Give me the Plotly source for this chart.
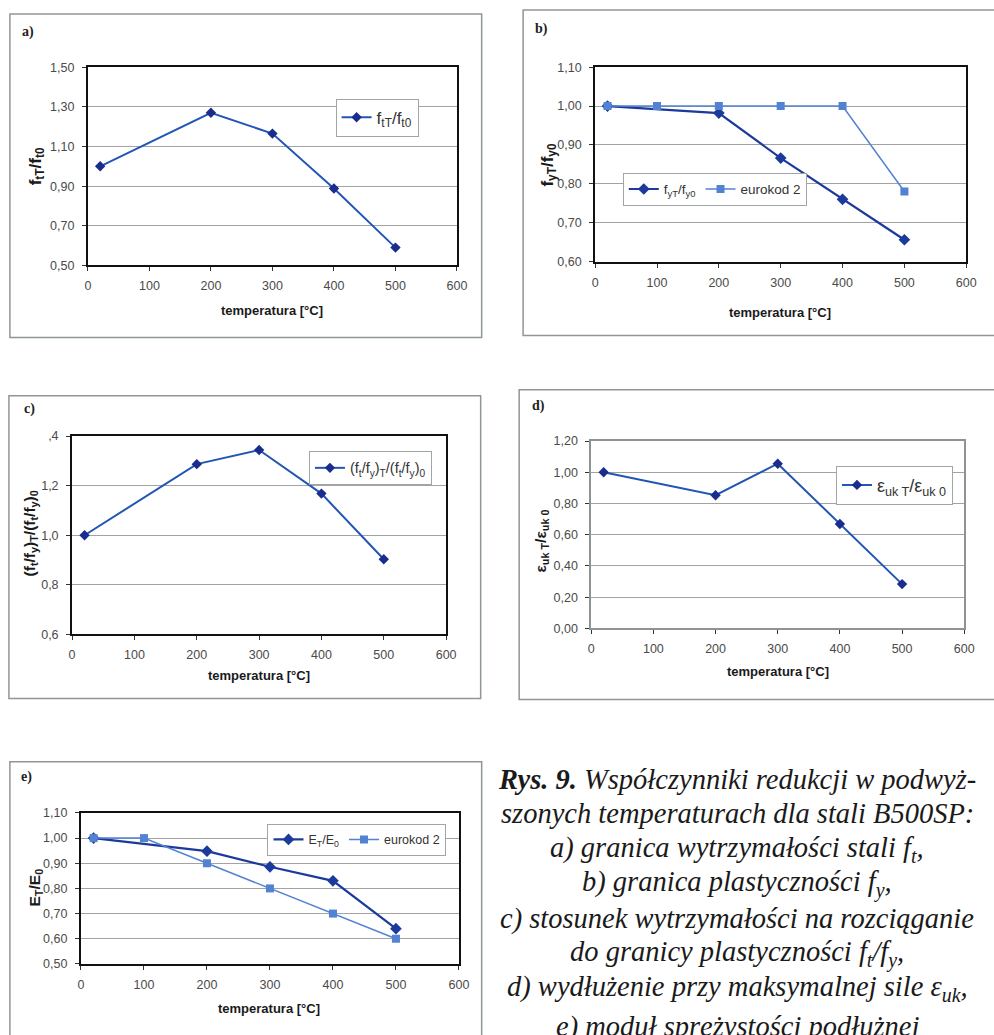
import plotly.graph_objects as go

W, H = 994, 1035


def px(x):
    return x / W


def py(y):
    return 1 - y / H


# ---------------- data ----------------
x_ticks = [0, 100, 200, 300, 400, 500, 600]
x_ticklabels = ["0", "100", "200", "300", "400", "500", "600"]

temps_a = [20, 200, 300, 400, 500]
ratio_a = [1.00, 1.27, 1.165, 0.888, 0.59]
ytick_a = [0.5, 0.7, 0.9, 1.1, 1.3, 1.5]
ylab_a = ["0,50", "0,70", "0,90", "1,10", "1,30", "1,50"]

temps_b = [20, 200, 300, 400, 500]
ratio_b = [1.00, 0.982, 0.866, 0.76, 0.656]
temps_ec_b = [20, 100, 200, 300, 400, 500]
ec_b = [1.0, 1.0, 1.0, 1.0, 1.0, 0.78]
ytick_b = [0.6, 0.7, 0.8, 0.9, 1.0, 1.1]
ylab_b = ["0,60", "0,70", "0,80", "0,90", "1,00", "1,10"]

temps_c = [20, 200, 300, 400, 500]
ratio_c = [1.00, 1.287, 1.344, 1.168, 0.903]
ytick_c = [0.6, 0.8, 1.0, 1.2, 1.4]
ylab_c = ["0,6", "0,8", "1,0", "1,2", ",4"]

temps_d = [20, 200, 300, 400, 500]
ratio_d = [1.00, 0.853, 1.055, 0.669, 0.284]
ytick_d = [0.0, 0.2, 0.4, 0.6, 0.8, 1.0, 1.2]
ylab_d = ["0,00", "0,20", "0,40", "0,60", "0,80", "1,00", "1,20"]

temps_e = [20, 200, 300, 400, 500]
ratio_e = [1.00, 0.948, 0.886, 0.83, 0.64]
temps_ec_e = [20, 100, 200, 300, 400, 500]
ec_e = [1.0, 1.0, 0.9, 0.8, 0.7, 0.6]
ytick_e = [0.5, 0.6, 0.7, 0.8, 0.9, 1.0, 1.1]
ylab_e = ["0,50", "0,60", "0,70", "0,80", "0,90", "1,00", "1,10"]

caption_lines = [
    "<b>Rys. 9.</b> Współczynniki redukcji w podwyż-",
    "szonych temperaturach dla stali B500SP:",
    "a) granica wytrzymałości stali f<sub>t</sub>,",
    "b) granica plastyczności f<sub>y</sub>,",
    "c) stosunek wytrzymałości na rozciąganie",
    "do granicy plastyczności f<sub>t</sub>/f<sub>y</sub>,",
    "d) wydłużenie przy maksymalnej sile ε<sub>uk</sub>,",
    "e) moduł sprężystości podłużnej",
]

# ---------------- styles ----------------
DARK = "#1b3a9c"
MID = "#2356b4"
LIGHT = "#5282d2"
GRID = "#a3a3a3"
BOX = "#8f9696"
SANS = "Liberation Sans, Arial, sans-serif"
SERIF = "Liberation Serif, Times New Roman, serif"

panels = [
    dict(key="a", plot=(86, 61, 460, 262), box=(7, 7, 485, 335),
         yt=ytick_a, yl=ylab_a, yr=[0.5, 1.5], border="#111111",
         label=(17, 25), ytitle="f<sub>tT</sub>/f<sub>t0</sub>", yt_pos=(34, 162), yt_size=17,
         xt_pos=(273, 308),
         legend=dict(x=337, y=93, orientation="v", size=17)),
    dict(key="b", plot=(600, 61, 976, 258), box=(527, 3, 1010, 333),
         yt=ytick_b, yl=ylab_b, yr=[0.6, 1.1], border="#111111",
         label=(537, 22), ytitle="f<sub>yT</sub>/f<sub>y0</sub>", yt_pos=(553, 160), yt_size=17,
         xt_pos=(787, 310),
         legend=dict(x=628, y=168, orientation="h", size=13.5)),
    dict(key="c", plot=(70, 435, 449, 636), box=(6, 394, 484, 701),
         yt=ytick_c, yl=ylab_c, yr=[0.6, 1.4], border="#111111",
         label=(19, 408),
         ytitle="(f<sub>t</sub>/f<sub>y</sub>)<sub>T</sub>/(f<sub>t</sub>/f<sub>y</sub>)<sub>0</sub>",
         yt_pos=(28, 534), yt_size=15.5, xt_pos=(259, 678),
         legend=dict(x=310, y=450, orientation="v", size=14.5)),
    dict(key="d", plot=(596, 440, 974, 630), box=(523, 388, 1010, 702),
         yt=ytick_d, yl=ylab_d, yr=[0.0, 1.2], border="#8e9494",
         label=(534, 404), ytitle="ε<sub>uk T</sub>/ε<sub>uk 0</sub>", yt_pos=(546, 541),
         yt_size=15.5, xt_pos=(785, 674),
         legend=dict(x=844, y=465, orientation="v", size=18)),
    dict(key="e", plot=(79, 817, 462, 970), box=(7, 765, 485, 1045),
         yt=ytick_e, yl=ylab_e, yr=[0.5, 1.1], border="#111111",
         label=(16, 781), ytitle="E<sub>T</sub>/E<sub>0</sub>", yt_pos=(33, 893), yt_size=15.5,
         xt_pos=(270, 1015),
         legend=dict(x=268, y=828, orientation="h", size=12.5)),
]

series = {
    "a": [dict(x=temps_a, y=ratio_a, name="f<sub>tT</sub>/f<sub>t0</sub>", kind="main")],
    "b": [dict(x=temps_b, y=ratio_b, name="f<sub>yT</sub>/f<sub>y0</sub>", kind="dark"),
          dict(x=temps_ec_b, y=ec_b, name="eurokod 2", kind="ec")],
    "c": [dict(x=temps_c, y=ratio_c,
               name="(f<sub>t</sub>/f<sub>y</sub>)<sub>T</sub>/(f<sub>t</sub>/f<sub>y</sub>)<sub>0</sub>",
               kind="main")],
    "d": [dict(x=temps_d, y=ratio_d, name="ε<sub>uk T</sub>/ε<sub>uk 0</sub>", kind="main")],
    "e": [dict(x=temps_e, y=ratio_e, name="E<sub>T</sub>/E<sub>0</sub>", kind="dark"),
          dict(x=temps_ec_e, y=ec_e, name="eurokod 2", kind="ec")],
}

fig = go.Figure()
layout = dict(width=W, height=H, margin=dict(l=0, r=0, t=0, b=0),
              paper_bgcolor="white", plot_bgcolor="white", showlegend=True)
shapes = []
annotations = []

for i, p in enumerate(panels, start=1):
    sfx = "" if i == 1 else str(i)
    x0, y0, x1, y1 = p["plot"]
    leg_name = "legend" if i == 1 else f"legend{i}"
    lw = 2 if p["border"] == "#111111" else 1.5
    layout[f"xaxis{sfx}"] = dict(
        domain=[px(x0), px(x1)], anchor=f"y{sfx}", range=[0, 600],
        tickvals=x_ticks, ticktext=x_ticklabels, ticks="outside", ticklen=4,
        tickcolor="#333333", showline=True, mirror=True, linecolor=p["border"],
        linewidth=lw, showgrid=False, zeroline=False, ticklabelstandoff=4,
        tickfont=dict(family=SANS, size=12.5, color="#4a4a4a"))
    layout[f"yaxis{sfx}"] = dict(
        domain=[py(y1), py(y0)], anchor=f"x{sfx}", range=p["yr"],
        tickvals=p["yt"], ticktext=p["yl"], ticks="outside", ticklen=4,
        tickcolor="#333333", showline=True, mirror=True, linecolor=p["border"],
        linewidth=lw, showgrid=True, gridcolor=GRID, gridwidth=1, zeroline=False,
        ticklabelstandoff=5,
        tickfont=dict(family=SANS, size=12.5, color="#4a4a4a"))
    lg = p["legend"]
    layout[leg_name] = dict(
        x=px(lg["x"]), y=py(lg["y"]), xanchor="left", yanchor="top",
        orientation=lg["orientation"], bgcolor="white", bordercolor="#a0a6a6",
        borderwidth=1, itemwidth=30, tracegroupgap=0,
        font=dict(family=SANS, size=lg["size"], color="#333333"))

    for s in series[p["key"]]:
        if s["kind"] == "ec":
            line = dict(color=LIGHT, width=1.5)
            marker = dict(symbol="square", size=8, color=LIGHT)
        elif s["kind"] == "dark":
            line = dict(color=DARK, width=2.2)
            marker = dict(symbol="diamond", size=9, color=DARK)
        else:
            line = dict(color=MID, width=2)
            marker = dict(symbol="diamond", size=8, color="#1a2c8c")
        fig.add_trace(go.Scatter(
            x=s["x"], y=s["y"], name=s["name"], mode="lines+markers",
            line=line, marker=marker, xaxis=f"x{sfx}", yaxis=f"y{sfx}",
            legend=leg_name))

    bx0, by0, bx1, by1 = p["box"]
    shapes.append(dict(type="rect", xref="paper", yref="paper",
                       x0=px(bx0), x1=px(bx1), y0=py(by1), y1=py(by0),
                       line=dict(color=BOX, width=1.5), layer="below"))
    annotations.append(dict(
        text=f"<b>{p['key']})</b>", xref="paper", yref="paper",
        x=px(p["label"][0]), y=py(p["label"][1]), xanchor="left", yanchor="middle",
        showarrow=False, font=dict(family=SERIF, size=14, color="#222222")))
    annotations.append(dict(
        text=f"<b>{p['ytitle']}</b>", xref="paper", yref="paper",
        x=px(p["yt_pos"][0]), y=py(p["yt_pos"][1]), xanchor="center", yanchor="middle",
        textangle=-90, showarrow=False,
        font=dict(family=SANS, size=p["yt_size"], color="#1a1a1a")))
    annotations.append(dict(
        text="<b>temperatura [°C]</b>", xref="paper", yref="paper",
        x=px(p["xt_pos"][0]), y=py(p["xt_pos"][1]), xanchor="center", yanchor="middle",
        showarrow=False, font=dict(family=SANS, size=13, color="#1a1a1a")))

# caption
cap_centers = [783, 818, 854, 889, 924, 960, 995, 1034]
for txt, yc in zip(caption_lines, cap_centers):
    annotations.append(dict(
        text=f"<i>{txt}</i>", xref="paper", yref="paper", x=px(744), y=py(yc),
        xanchor="center", yanchor="middle", showarrow=False,
        font=dict(family=SERIF, size=28.5, color="#1a1a1a")))

layout["shapes"] = shapes
layout["annotations"] = annotations
fig.update_layout(**layout)
fig.write_html("out.html")
